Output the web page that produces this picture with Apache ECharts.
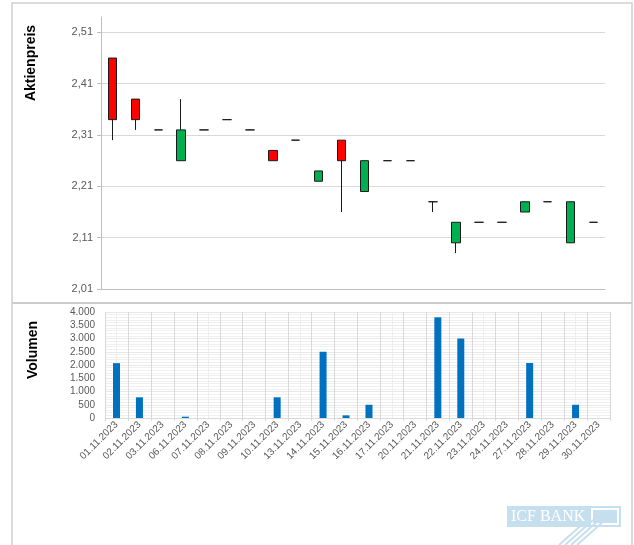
<!DOCTYPE html>
<html>
<head>
<meta charset="utf-8">
<script src="https://cdn.jsdelivr.net/npm/echarts@6/dist/echarts.min.js"></script>
<style>
  html, body { margin: 0; padding: 0; background: #fff; }
  #chart { width: 634px; height: 545px; }
</style>
</head>
<body>
<div id="chart"></div>
<script>
// Handelstage November 2023
const dates = [
  "01.11.2023", "02.11.2023", "03.11.2023", "06.11.2023", "07.11.2023", "08.11.2023",
  "09.11.2023", "10.11.2023", "13.11.2023", "14.11.2023", "15.11.2023", "16.11.2023",
  "17.11.2023", "20.11.2023", "21.11.2023", "22.11.2023", "23.11.2023", "24.11.2023",
  "27.11.2023", "28.11.2023", "29.11.2023", "30.11.2023"
];
const openPrices  = [2.46, 2.38, 2.32, 2.26, 2.32, 2.34, 2.32, 2.28, 2.30, 2.22, 2.30, 2.20, 2.26, 2.26, 2.18, 2.10, 2.14, 2.14, 2.16, 2.18, 2.10, 2.14];
const closePrices = [2.34, 2.34, 2.32, 2.32, 2.32, 2.34, 2.32, 2.26, 2.30, 2.24, 2.26, 2.26, 2.26, 2.26, 2.18, 2.14, 2.14, 2.14, 2.18, 2.18, 2.18, 2.14];
const lowPrices   = [2.30, 2.32, 2.32, 2.26, 2.32, 2.34, 2.32, 2.26, 2.30, 2.22, 2.16, 2.20, 2.26, 2.26, 2.16, 2.08, 2.14, 2.14, 2.16, 2.18, 2.10, 2.14];
const highPrices  = [2.46, 2.38, 2.32, 2.38, 2.32, 2.34, 2.32, 2.28, 2.30, 2.24, 2.30, 2.26, 2.26, 2.26, 2.18, 2.14, 2.14, 2.14, 2.18, 2.18, 2.18, 2.14];
const volumes     = [2070, 780, 0, 50, 0, 0, 0, 780, 0, 2500, 100, 500, 0, 0, 3800, 3000, 0, 0, 2075, 0, 500, 0];

const priceTicks  = [2.01, 2.11, 2.21, 2.31, 2.41, 2.51];
const volumeTicks = [0, 500, 1000, 1500, 2000, 2500, 3000, 3500, 4000];

const labelColor = "#595959";
const fontFamily = "'Liberation Sans', Arial, sans-serif";

const candleData = dates.map((d, i) => [openPrices[i], closePrices[i], lowPrices[i], highPrices[i]]);

function fmtPrice(v) {
  return v.toFixed(2).replace(".", ",");
}
function fmtVolume(v) {
  return String(Math.round(v)).replace(/\B(?=(\d{3})+(?!\d))/g, ".");
}

const chart = echarts.init(document.getElementById("chart"), null, { renderer: "canvas" });

chart.setOption({
  animation: false,
  backgroundColor: "#fff",
  grid: [
    { left: 101, top: 17, width: 504, height: 272 },
    { left: 105, top: 312, width: 505, height: 106 }
  ],
  xAxis: [
    {
      type: "category",
      gridIndex: 0,
      data: dates,
      boundaryGap: true,
      axisLine: { lineStyle: { color: "#bfbfbf" } },
      axisTick: { show: false },
      axisLabel: { show: false },
      splitLine: { show: false }
    },
    {
      type: "category",
      gridIndex: 1,
      data: dates,
      boundaryGap: true,
      axisLine: { lineStyle: { color: "#d9d9d9" } },
      axisTick: { show: true, length: 3, lineStyle: { color: "#d9d9d9" } },
      axisLabel: {
        rotate: 45,
        interval: 0,
        fontSize: 10,
        color: labelColor,
        fontFamily: fontFamily,
        margin: 5
      },
      splitLine: { show: true, lineStyle: { color: "#d9d9d9" } }
    },
    {
      // feine Linien in der Mitte jeder Kategorie
      type: "category",
      gridIndex: 1,
      data: dates,
      boundaryGap: true,
      axisLine: { show: false },
      axisTick: { show: false },
      axisLabel: { show: false },
      splitLine: { show: true, alignWithLabel: true, lineStyle: { color: "#eeeeee" } }
    }
  ],
  yAxis: [
    {
      type: "value",
      gridIndex: 0,
      min: priceTicks[0],
      max: 2.54,
      interval: priceTicks[1] - priceTicks[0],
      axisLine: { show: true, lineStyle: { color: "#bfbfbf" } },
      axisTick: { show: true, length: 4, lineStyle: { color: "#bfbfbf" } },
      axisLabel: {
        fontSize: 11,
        color: labelColor,
        fontFamily: fontFamily,
        margin: 8,
        showMaxLabel: false,
        formatter: fmtPrice
      },
      splitLine: { show: true, showMaxLine: false, lineStyle: { color: "#d9d9d9" } }
    },
    {
      type: "value",
      gridIndex: 1,
      min: volumeTicks[0],
      max: volumeTicks[volumeTicks.length - 1],
      interval: volumeTicks[1] - volumeTicks[0],
      axisLine: { show: false },
      axisTick: { show: false },
      axisLabel: {
        fontSize: 10,
        color: labelColor,
        fontFamily: fontFamily,
        margin: 10,
        formatter: fmtVolume
      },
      minorTick: { show: false, splitNumber: 5 },
      minorSplitLine: { show: true, lineStyle: { color: "#f0f0f0" } },
      splitLine: { show: true, lineStyle: { color: "#e8e8e8" } }
    }
  ],
  series: [
    {
      name: "Aktienpreis",
      type: "candlestick",
      xAxisIndex: 0,
      yAxisIndex: 0,
      data: candleData,
      barWidth: 9,
      itemStyle: {
        color: "#00b050",
        color0: "#ff0000",
        borderColor: "#1a1a1a",
        borderColor0: "#1a1a1a",
        borderColorDoji: "#1a1a1a",
        borderWidth: 1
      }
    },
    {
      name: "Volumen",
      type: "bar",
      xAxisIndex: 1,
      yAxisIndex: 1,
      data: volumes,
      barWidth: 7,
      itemStyle: { color: "#0070c0" }
    }
  ],
  graphic: [
    // Rahmen der beiden Felder
    {
      type: "rect",
      silent: true,
      shape: { x: 12, y: 3, width: 620, height: 600 },
      style: { fill: null, stroke: "#d0d0d0", lineWidth: 1.5 }
    },
    {
      type: "line",
      silent: true,
      shape: { x1: 12, y1: 303, x2: 632, y2: 303 },
      style: { stroke: "#cccccc", lineWidth: 2 }
    },
    {
      type: "text",
      x: 31,
      y: 63,
      rotation: Math.PI / 2,
      style: {
        text: "Aktienpreis",
        fontSize: 14,
        fontWeight: "bold",
        fontFamily: fontFamily,
        fill: "#000",
        align: "center",
        verticalAlign: "middle"
      }
    },
    {
      type: "text",
      x: 33,
      y: 350,
      rotation: Math.PI / 2,
      style: {
        text: "Volumen",
        fontSize: 14,
        fontWeight: "bold",
        fontFamily: fontFamily,
        fill: "#000",
        align: "center",
        verticalAlign: "middle"
      }
    },
    // Logo
    {
      type: "group",
      x: 507,
      y: 506,
      silent: true,
      children: [
        { type: "rect", shape: { x: 0, y: 0, width: 114, height: 21 }, style: { fill: "#c6dfee" } },
        { type: "rect", shape: { x: 84, y: 2, width: 28, height: 17 }, style: { fill: "#fff" } },
        { type: "rect", shape: { x: 86, y: 4, width: 24, height: 13 }, style: { fill: "#c6dfee" } },
        {
          type: "text",
          x: 4,
          y: 10.5,
          style: {
            text: "ICF BANK",
            fontSize: 16,
            fontFamily: "'Liberation Serif', serif",
            fill: "#fff",
            verticalAlign: "middle"
          }
        },
        { type: "line", shape: { x1: 52, y1: 39, x2: 80, y2: 14 }, style: { stroke: "#c6dfee", lineWidth: 2 } },
        { type: "line", shape: { x1: 58, y1: 39, x2: 86, y2: 14 }, style: { stroke: "#c6dfee", lineWidth: 2 } },
        { type: "line", shape: { x1: 64, y1: 39, x2: 92, y2: 14 }, style: { stroke: "#c6dfee", lineWidth: 2 } },
        { type: "line", shape: { x1: 70, y1: 39, x2: 98, y2: 14 }, style: { stroke: "#c6dfee", lineWidth: 2 } }
      ]
    }
  ]
});
</script>
</body>
</html>
